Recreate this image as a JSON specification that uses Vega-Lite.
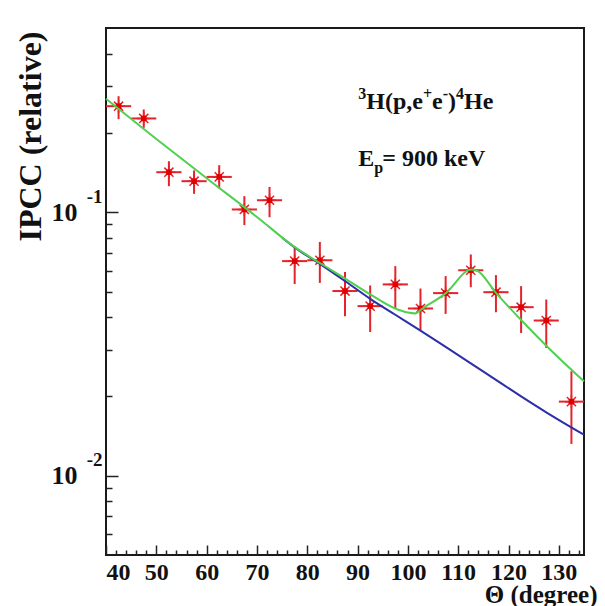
{
  "$schema": "https://vega.github.io/schema/vega-lite/v6.json",
  "width": 478,
  "height": 527,
  "autosize": {"type": "none"},
  "padding": {"left": 106, "top": 28, "right": 21, "bottom": 51},
  "background": "white",
  "config": {
    "view": {"stroke": "#1a1a1a", "strokeWidth": 2},
    "axis": {"labelFont": "Liberation Serif", "titleFont": "Liberation Serif", "labelFontWeight": "bold", "titleFontWeight": "bold", "labelColor": "#111", "titleColor": "#111", "tickColor": "#222", "grid": false, "domain": false}
  },
  "datasets": {
    "pts": [
      {"deg": 42.5, "xlo": 40, "xhi": 45, "val": 0.2525, "lo": 0.2254, "hi": 0.2756},
      {"deg": 47.5, "xlo": 45, "xhi": 50, "val": 0.2268, "lo": 0.2089, "hi": 0.2454},
      {"deg": 52.5, "xlo": 50, "xhi": 55, "val": 0.1418, "lo": 0.1255, "hi": 0.1561},
      {"deg": 57.5, "xlo": 55, "xhi": 60, "val": 0.1311, "lo": 0.1174, "hi": 0.1440},
      {"deg": 62.5, "xlo": 60, "xhi": 65, "val": 0.1361, "lo": 0.1230, "hi": 0.1508},
      {"deg": 67.5, "xlo": 65, "xhi": 70, "val": 0.1024, "lo": 0.0893, "hi": 0.1150},
      {"deg": 72.5, "xlo": 70, "xhi": 75, "val": 0.1110, "lo": 0.0957, "hi": 0.1247},
      {"deg": 77.5, "xlo": 75, "xhi": 80, "val": 0.0652, "lo": 0.0534, "hi": 0.0743},
      {"deg": 82.5, "xlo": 80, "xhi": 85, "val": 0.0657, "lo": 0.0539, "hi": 0.0771},
      {"deg": 87.5, "xlo": 85, "xhi": 90, "val": 0.0502, "lo": 0.0403, "hi": 0.0593},
      {"deg": 92.5, "xlo": 90, "xhi": 95, "val": 0.0440, "lo": 0.0351, "hi": 0.0527},
      {"deg": 97.5, "xlo": 95, "xhi": 100, "val": 0.0532, "lo": 0.0433, "hi": 0.0624},
      {"deg": 102.5, "xlo": 100, "xhi": 105, "val": 0.0431, "lo": 0.0354, "hi": 0.0513},
      {"deg": 107.5, "xlo": 105, "xhi": 110, "val": 0.0493, "lo": 0.0411, "hi": 0.0572},
      {"deg": 112.5, "xlo": 110, "xhi": 115, "val": 0.0602, "lo": 0.0519, "hi": 0.0691},
      {"deg": 117.5, "xlo": 115, "xhi": 120, "val": 0.0497, "lo": 0.0417, "hi": 0.0577},
      {"deg": 122.5, "xlo": 120, "xhi": 125, "val": 0.0436, "lo": 0.0348, "hi": 0.0524},
      {"deg": 127.5, "xlo": 125, "xhi": 130, "val": 0.0388, "lo": 0.0305, "hi": 0.0466},
      {"deg": 132.5, "xlo": 130, "xhi": 135, "val": 0.0191, "lo": 0.0132, "hi": 0.0249}
    ],
    "blue": [
      {"deg": 75, "val": 0.0800},
      {"deg": 77.61, "val": 0.0732},
      {"deg": 82.57, "val": 0.0635},
      {"deg": 87.54, "val": 0.0547},
      {"deg": 92.5, "val": 0.0469},
      {"deg": 97.5, "val": 0.0408},
      {"deg": 102.5, "val": 0.0355},
      {"deg": 107.5, "val": 0.0308},
      {"deg": 112.5, "val": 0.0267},
      {"deg": 117.5, "val": 0.0231},
      {"deg": 122.5, "val": 0.0200},
      {"deg": 127.5, "val": 0.0174},
      {"deg": 135, "val": 0.0143}
    ],
    "green": [
      {"deg": 40, "val": 0.2696},
      {"deg": 50, "val": 0.1897},
      {"deg": 60, "val": 0.1346},
      {"deg": 70, "val": 0.0959},
      {"deg": 77.61, "val": 0.0735},
      {"deg": 82.57, "val": 0.0640},
      {"deg": 87.54, "val": 0.0560},
      {"deg": 92.5, "val": 0.0488},
      {"deg": 97.5, "val": 0.0431},
      {"deg": 100, "val": 0.0416},
      {"deg": 101.5, "val": 0.0413},
      {"deg": 102.6, "val": 0.0427},
      {"deg": 107.55, "val": 0.0493},
      {"deg": 112.6, "val": 0.0606},
      {"deg": 113.7, "val": 0.0601},
      {"deg": 117.5, "val": 0.0494},
      {"deg": 122.6, "val": 0.0388},
      {"deg": 127.6, "val": 0.0310},
      {"deg": 135, "val": 0.0228}
    ],
    "mainText": [
      {"x": 91.73, "y": 0.246, "t": "H(p,e"},
      {"x": 104.8, "y": 0.246, "t": "e"},
      {"x": 107.98, "y": 0.246, "t": ")"},
      {"x": 111.16, "y": 0.246, "t": "He"},
      {"x": 90.14, "y": 0.1495, "t": "E"},
      {"x": 94.91, "y": 0.1495, "t": "= 900 keV"}
    ],
    "supText": [
      {"x": 90.14, "y": 0.2685, "t": "3"},
      {"x": 103.0, "y": 0.2685, "t": "+"},
      {"x": 106.93, "y": 0.2685, "t": "-"},
      {"x": 109.57, "y": 0.2685, "t": "4"},
      {"x": 93.32, "y": 0.1406, "t": "p"}
    ]
  },
  "resolve": {"axis": {"x": "independent", "y": "independent"}},
  "layer": [
    {
      "data": {"name": "pts"},
      "mark": {"type": "rule", "color": "#e4232b", "strokeWidth": 2},
      "encoding": {
        "x": {"field": "deg", "type": "quantitative", "scale": {"domain": [40, 135], "nice": false, "zero": false},
          "axis": {"orient": "bottom", "values": [42,44,46,48,52,54,56,58,62,64,66,68,72,74,76,78,82,84,86,88,92,94,96,98,102,104,106,108,112,114,116,118,122,124,126,128,132,134], "tickSize": -5, "tickWidth": 1.5, "labels": false, "title": null}},
        "y": {"field": "lo", "type": "quantitative", "scale": {"type": "log", "domain": [0.005, 0.5], "nice": false},
          "axis": {"orient": "left", "values": [0.006,0.007,0.008,0.009,0.02,0.03,0.04,0.05,0.06,0.07,0.08,0.09,0.2,0.3,0.4], "tickSize": -6, "tickWidth": 1.5, "labels": false, "title": null}},
        "y2": {"field": "hi"}
      }
    },
    {
      "data": {"name": "pts"},
      "mark": {"type": "rule", "color": "#e4232b", "strokeWidth": 2},
      "encoding": {
        "x": {"field": "xlo", "type": "quantitative",
          "axis": {"orient": "bottom", "values": [40,50,60,70,80,90,100,110,120,130], "tickSize": -10, "tickWidth": 1.5, "labelFontSize": 24, "labelPadding": 15, "title": "Θ (degree)", "titleFontSize": 25, "titleAnchor": "end", "titleAlign": "right", "titleBaseline": "middle", "titleX": 491, "titleY": 39}},
        "x2": {"field": "xhi"},
        "y": {"field": "val", "type": "quantitative",
          "axis": {"orient": "left", "values": [0.01, 0.1], "tickSize": -12, "tickWidth": 1.5, "labelExpr": "'10'", "labelFontSize": 26, "labelPadding": 41, "labelBaseline": "middle", "title": "IPCC (relative)", "titleFontSize": 32, "titleAnchor": "end", "titleAngle": -90, "titleAlign": "right", "titleBaseline": "middle", "titleX": -76, "titleY": 3}}
      }
    },
    {
      "data": {"name": "pts"},
      "mark": {"type": "point", "shape": "M-1,0L1,0M0,-1L0,1M-0.7,-0.7L0.7,0.7M-0.7,0.7L0.7,-0.7", "filled": false, "stroke": "#e4232b", "strokeWidth": 1.5, "size": 170, "opacity": 1},
      "encoding": {
        "x": {"field": "deg", "type": "quantitative", "axis": null},
        "y": {"field": "val", "type": "quantitative",
          "axis": {"orient": "left", "values": [0.01, 0.1], "ticks": false, "labelExpr": "datum.value > 0.05 ? '-1' : '-2'", "labelFontSize": 19, "labelPadding": 4, "labelOffset": -16, "labelAlign": "right", "labelBaseline": "middle", "title": null}}
      }
    },
    {
      "data": {"name": "pts"},
      "mark": {"type": "point", "shape": "square", "filled": true, "color": "#e00000", "size": 30, "opacity": 1},
      "encoding": {
        "x": {"field": "deg", "type": "quantitative", "axis": null},
        "y": {"field": "val", "type": "quantitative", "axis": null}
      }
    },
    {
      "data": {"name": "blue"},
      "mark": {"type": "line", "color": "#2b2fa8", "strokeWidth": 2, "interpolate": "monotone"},
      "encoding": {
        "x": {"field": "deg", "type": "quantitative", "axis": null},
        "y": {"field": "val", "type": "quantitative", "axis": null}
      }
    },
    {
      "data": {"name": "green"},
      "mark": {"type": "line", "color": "#4fd04f", "strokeWidth": 2, "interpolate": "monotone"},
      "encoding": {
        "x": {"field": "deg", "type": "quantitative", "axis": null},
        "y": {"field": "val", "type": "quantitative", "axis": null}
      }
    },
    {
      "data": {"name": "mainText"},
      "mark": {"type": "text", "font": "Liberation Serif", "fontWeight": "bold", "fontSize": 24, "align": "left", "baseline": "alphabetic", "color": "#111"},
      "encoding": {
        "x": {"field": "x", "type": "quantitative", "axis": null},
        "y": {"field": "y", "type": "quantitative", "axis": null},
        "text": {"field": "t"}
      }
    },
    {
      "data": {"name": "supText"},
      "mark": {"type": "text", "font": "Liberation Serif", "fontWeight": "bold", "fontSize": 16, "align": "left", "baseline": "alphabetic", "color": "#111"},
      "encoding": {
        "x": {"field": "x", "type": "quantitative", "axis": null},
        "y": {"field": "y", "type": "quantitative", "axis": null},
        "text": {"field": "t"}
      }
    }
  ]
}
